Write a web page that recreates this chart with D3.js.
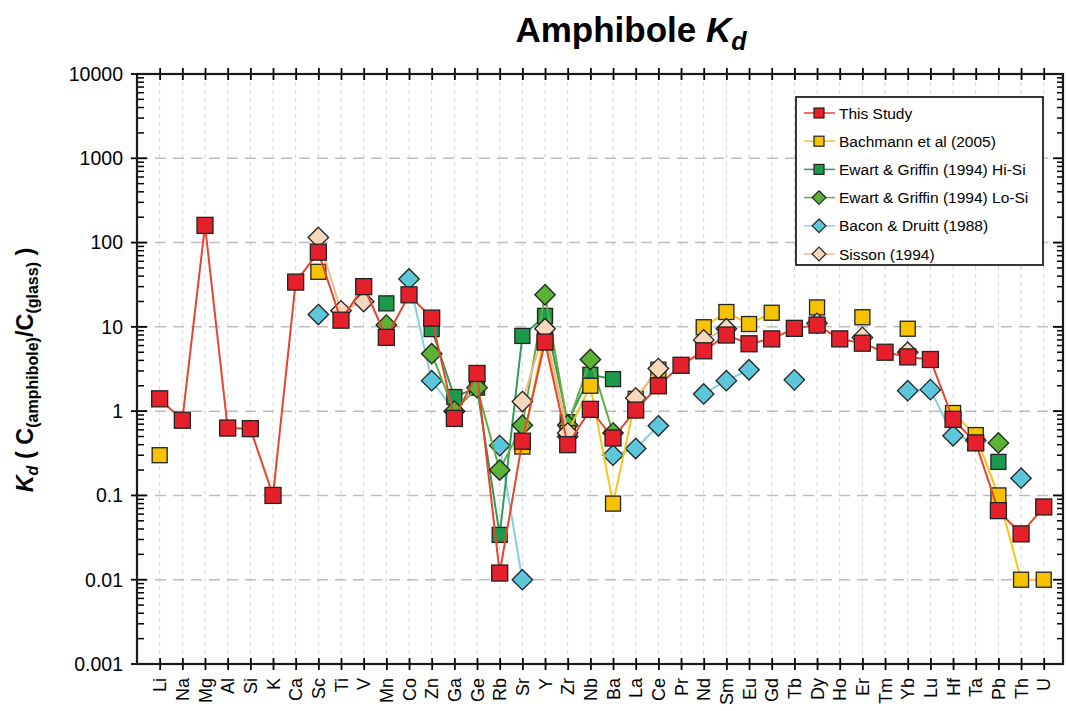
<!DOCTYPE html>
<html>
<head>
<meta charset="utf-8">
<script src="https://cdn.jsdelivr.net/npm/d3@7"></script>
<style>
  body { margin: 0; background: #fff; }
  svg { display: block; font-family: "Liberation Sans", Arial, sans-serif; }
</style>
</head>
<body>
<svg id="chart" width="1066" height="711"></svg>
<script>
var elements = ['Li','Na','Mg','Al','Si','K','Ca','Sc','Ti','V','Mn','Co','Zn','Ga','Ge','Rb','Sr','Y','Zr','Nb',
                'Ba','La','Ce','Pr','Nd','Sm','Eu','Gd','Tb','Dy','Ho','Er','Tm','Yb','Lu','Hf','Ta','Pb','Th','U'];

var yTicks = [10000, 1000, 100, 10, 1, 0.1, 0.01, 0.001];
var yTickLabels = ['10000', '1000', '100', '10', '1', '0.1', '0.01', '0.001'];

// Kd values per element (null = no data)
var thisStudy = [1.4,0.78,160,0.63,0.62,0.1,34,77,12,30,7.5,24,12.7,0.82,2.8,0.012,0.44,6.6,0.4,1.05,
                 0.48,1.03,2.0,3.5,5.2,8.0,6.3,7.2,9.6,10.5,7.2,6.4,5.0,4.4,4.1,0.8,0.42,0.066,0.035,0.073];
var bachmann = {Li:0.3, Sc:45, Sr:0.38, Y:8.5, Zr:0.55, Nb:2.0, Ba:0.08, La:1.4, Ce:3.1, Nd:9.9, Sm:15, Eu:10.8,
                Gd:14.7, Dy:17, Er:13, Yb:9.5, Hf:0.95, Ta:0.52, Pb:0.1, Th:0.01, U:0.01};
var ewartHiSi = {Mn:19, Zn:9.4, Ga:1.47, Ge:1.9, Rb:0.034, Sr:7.8, Y:13.5, Zr:0.74, Nb:2.7, Ba:2.4, Pb:0.25};
var ewartLoSi = {Mn:10.5, Zn:4.8, Ga:1.0, Ge:1.9, Rb:0.2, Sr:0.68, Y:24, Zr:0.68, Nb:4.1, Ba:0.55, Pb:0.42};
var baconDruitt = {Sc:14, Co:37, Zn:2.3, Ga:1.0, Rb:0.39, Sr:0.01, Zr:0.5, Ba:0.3, La:0.36, Ce:0.67, Nd:1.6,
                   Sm:2.3, Eu:3.1, Tb:2.35, Yb:1.75, Lu:1.8, Hf:0.51, Ta:0.45, Th:0.16};
var sisson = {Sc:115, Ti:15.5, V:20, Sr:1.3, Y:9.5, Zr:0.55, La:1.43, Ce:3.2, Nd:7, Sm:9.5, Dy:11, Er:7.5, Yb:5};

function fromMap(m) {
	return elements.map(function (e) { return m[e] === undefined ? null : m[e]; });
}

// drawn bottom to top
var series = [
	{ name: 'Bacon & Druitt (1988)', values: fromMap(baconDruitt), shape: 'diamond', fill: '#5cc6da', stroke: '#86d0e2' },
	{ name: 'Ewart & Griffin (1994) Hi-Si', values: fromMap(ewartHiSi), shape: 'square', fill: '#1b9a4b', stroke: '#2e9b57' },
	{ name: 'Ewart & Griffin (1994) Lo-Si', values: fromMap(ewartLoSi), shape: 'diamond', fill: '#5cb234', stroke: '#62ae45' },
	{ name: 'Bachmann et al (2005)', values: fromMap(bachmann), shape: 'square', fill: '#f7c200', stroke: '#f5c518' },
	{ name: 'Sisson (1994)', values: fromMap(sisson), shape: 'diamond', fill: '#f8d8bc', stroke: '#f4b98e' },
	{ name: 'This Study', values: thisStudy, shape: 'square', fill: '#e6202a', stroke: '#e5452f' }
];
var legendOrder = ['This Study', 'Bachmann et al (2005)', 'Ewart & Griffin (1994) Hi-Si',
                   'Ewart & Griffin (1994) Lo-Si', 'Bacon & Druitt (1988)', 'Sisson (1994)'];

var svg = d3.select('#chart');
var pL = 137, pR = 1063, pT = 74, pB = 664;

var x = d3.scaleLinear().domain([-1, 39.85]).range([pL, pR]);
var y = d3.scaleLog().domain([0.001, 10000]).range([pB, pT]);

// grid
var grid = svg.append('g');
grid.selectAll('line.v').data(elements).enter().append('line')
	.attr('x1', function (d, i) { return x(i); }).attr('x2', function (d, i) { return x(i); })
	.attr('y1', pT).attr('y2', pB)
	.attr('stroke', '#d4d4d4').attr('stroke-width', 1).attr('stroke-dasharray', '4,4');
grid.selectAll('line.h').data(yTicks.slice(1, -1)).enter().append('line')
	.attr('x1', pL).attr('x2', pR)
	.attr('y1', function (d) { return y(d); }).attr('y2', function (d) { return y(d); })
	.attr('stroke', '#bdbdbd').attr('stroke-width', 1.5).attr('stroke-dasharray', '11,7');

// axes
var xBottom = d3.axisBottom(x).tickValues(d3.range(elements.length)).tickSize(12).tickFormat('');
var xTop = d3.axisTop(x).tickValues(d3.range(elements.length)).tickSize(12).tickFormat('');
svg.append('g').attr('transform', 'translate(0,' + (pB - 6) + ')').call(xBottom)
	.call(function (g) { g.select('.domain').remove(); });
svg.append('g').attr('transform', 'translate(0,' + (pT + 6) + ')').call(xTop)
	.call(function (g) { g.select('.domain').remove(); });
svg.selectAll('.tick line').attr('stroke', '#000').attr('stroke-width', 1.8);

var minor = [];
yTicks.slice(1).forEach(function (t) {
	for (var k = 2; k <= 9; k++) minor.push(t * k);
});
svg.append('g').selectAll('line').data(minor).enter().append('line')
	.attr('x1', pL).attr('x2', pL + 7)
	.attr('y1', function (d) { return y(d); }).attr('y2', function (d) { return y(d); })
	.attr('stroke', '#000').attr('stroke-width', 1.5);
svg.append('g').selectAll('line').data(minor).enter().append('line')
	.attr('x1', pR - 6).attr('x2', pR)
	.attr('y1', function (d) { return y(d); }).attr('y2', function (d) { return y(d); })
	.attr('stroke', '#000').attr('stroke-width', 1.5);
svg.append('g').selectAll('line').data(yTicks).enter().append('line')
	.attr('x1', pL - 6).attr('x2', pL + 10)
	.attr('y1', function (d) { return y(d); }).attr('y2', function (d) { return y(d); })
	.attr('stroke', '#000').attr('stroke-width', 1.8);
svg.append('g').selectAll('line').data(yTicks).enter().append('line')
	.attr('x1', pR - 10).attr('x2', pR)
	.attr('y1', function (d) { return y(d); }).attr('y2', function (d) { return y(d); })
	.attr('stroke', '#000').attr('stroke-width', 1.8);

svg.append('g').selectAll('text').data(yTicks).enter().append('text')
	.attr('x', pL - 14).attr('y', function (d) { return y(d); })
	.attr('dy', '0.35em').attr('text-anchor', 'end')
	.style('font-size', '19.5px')
	.text(function (d, i) { return yTickLabels[i]; });

svg.append('g').selectAll('text').data(elements).enter().append('text')
	.attr('transform', function (d, i) { return 'translate(' + (x(i) + 6.5) + ',' + (pB + 14) + ') rotate(-90)'; })
	.attr('text-anchor', 'end')
	.style('font-size', '18px')
	.text(function (d) { return d; });

// frame
svg.append('rect').attr('x', pL).attr('y', pT).attr('width', pR - pL).attr('height', pB - pT)
	.attr('fill', 'none').attr('stroke', '#1a1a1a').attr('stroke-width', 2.2);

// series
var line = d3.line()
	.defined(function (d) { return d != null; })
	.x(function (d, i) { return x(i); })
	.y(function (d) { return y(d); });

function marker(sel, shape, size) {
	if (shape === 'square') {
		return sel.append('rect').attr('x', -size / 2).attr('y', -size / 2).attr('width', size).attr('height', size);
	}
	var h = size * 0.62;
	return sel.append('path').attr('d', 'M0,' + (-h) + 'L' + h + ',0L0,' + h + 'L' + (-h) + ',0Z');
}

series.forEach(function (s) {
	var g = svg.append('g');
	g.append('path').datum(s.values).attr('d', line)
		.attr('fill', 'none').attr('stroke', s.stroke).attr('stroke-width', 2);
	var pts = s.values.map(function (v, i) { return { v: v, i: i }; }).filter(function (d) { return d.v != null; });
	pts.forEach(function (d) {
		var m = g.append('g').attr('transform', 'translate(' + x(d.i) + ',' + y(d.v) + ')');
		marker(m, s.shape, s.shape === 'square' ? (s.name === 'This Study' ? 16 : 15) : 16.5)
			.attr('fill', s.fill).attr('stroke', '#222').attr('stroke-width', 1.3);
	});
});

// legend
var lg = svg.append('g');
lg.append('rect').attr('x', 796).attr('y', 97).attr('width', 247).attr('height', 168)
	.attr('fill', '#fff').attr('stroke', '#222').attr('stroke-width', 1.8);
legendOrder.forEach(function (name, k) {
	var s = series.filter(function (d) { return d.name === name; })[0];
	var ly = 113 + k * 28.2;
	lg.append('line').attr('x1', 804).attr('x2', 835).attr('y1', ly).attr('y2', ly)
		.attr('stroke', s.stroke).attr('stroke-width', 1.5);
	var m = lg.append('g').attr('transform', 'translate(819,' + ly + ')');
	marker(m, s.shape, s.shape === 'square' ? 10 : 11)
		.attr('fill', s.fill).attr('stroke', '#222').attr('stroke-width', 1.2);
	lg.append('text').attr('x', 839).attr('y', ly).attr('dy', '0.36em')
		.style('font-size', '15.5px').text(name);
});

// title
var title = svg.append('text').attr('x', 631).attr('y', 42).attr('text-anchor', 'middle')
	.style('font-size', '35px').style('font-weight', 'bold');
title.append('tspan').text('Amphibole ');
title.append('tspan').style('font-style', 'italic').text('K');
title.append('tspan').style('font-style', 'italic').style('font-size', '25px').attr('dy', 8).text('d');

// y axis title
var yt = svg.append('text').attr('transform', 'translate(33,370) rotate(-90)').attr('text-anchor', 'middle')
	.style('font-size', '23.5px').style('font-weight', 'bold');
yt.append('tspan').style('font-style', 'italic').text('K');
yt.append('tspan').style('font-style', 'italic').style('font-size', '16px').attr('dy', 5).text('d');
yt.append('tspan').attr('dy', -5).text(' ( C');
yt.append('tspan').style('font-size', '16px').attr('dy', 5).text('(amphibole)');
yt.append('tspan').attr('dy', -5).text('/C');
yt.append('tspan').style('font-size', '16px').attr('dy', 5).text('(glass)');
yt.append('tspan').attr('dy', -5).text(' )');
</script>
</body>
</html>
